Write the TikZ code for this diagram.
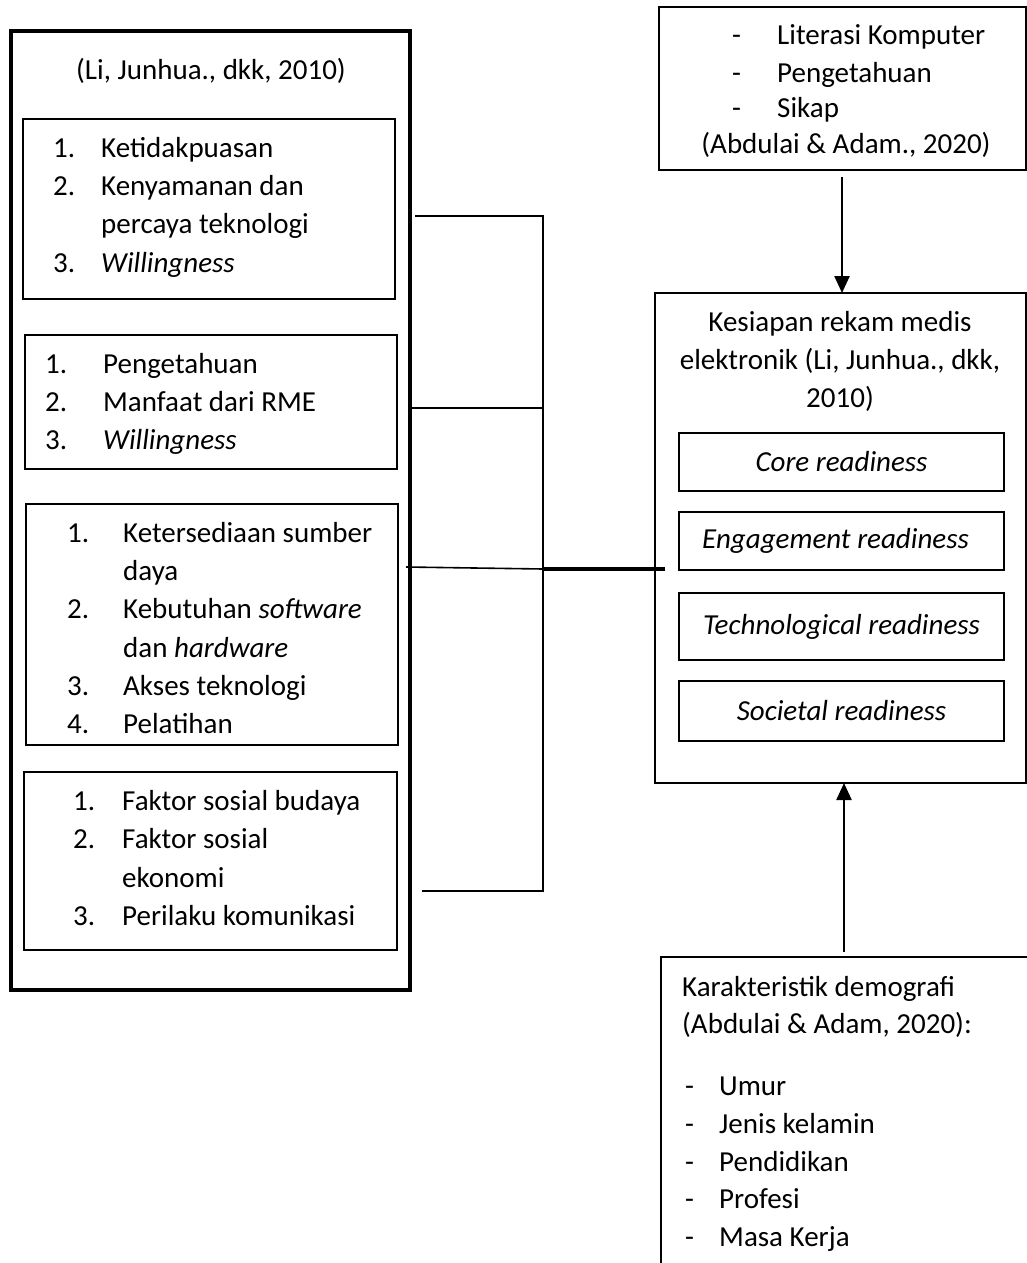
\documentclass[tikz,border=0pt]{standalone}
\usepackage{fontspec}
\setmainfont{Carlito}
\usepackage{tikz}
\usetikzlibrary{arrows.meta}

\tikzset{
  bigbox/.style={draw, line width=3.2pt, anchor=north west, inner sep=0pt, outer sep=0pt},
  itembox/.style={draw, line width=1.6pt, anchor=north west, inner sep=0pt, outer sep=0pt},
  txt/.style={font=\fontsize{29}{35}\selectfont, inner sep=0pt, anchor=base west},
  ctxt/.style={font=\fontsize{29}{35}\selectfont, inner sep=0pt, anchor=base},
  readybox/.style={itembox, minimum width=325pt, font=\fontsize{29}{35}\selectfont\itshape},
  link/.style={line width=1.6pt},
}

\begin{document}
\begin{tikzpicture}[x=1pt, y=-1pt, >={Triangle[width=15pt,length=17pt]}]
  \useasboundingbox (0,0) rectangle (1027,1263);
  \clip (0,0) rectangle (1027,1263);

  \node[bigbox, minimum width=399pt, minimum height=959pt] (kiri) at (11,31) {};
  \node[ctxt] (sumberLi) at (211,80) {(Li, Junhua., dkk, 2010)};

  \node[itembox, minimum width=372pt, minimum height=180pt] (dimA) at (23,119) {};
  \foreach \n/\y in {1./157, 2./195, 3./272}
    \node[txt] (nA\y) at (53,\y) {\n};
  \foreach \t/\y in {Ketidakpuasan/157, Kenyamanan dan/195, percaya teknologi/233, \textit{Willingness}/272}
    \node[txt] (tA\y) at (101,\y) {\t};

  \node[itembox, minimum width=372pt, minimum height=134pt] (dimB) at (25,335) {};
  \foreach \n/\y in {1./373, 2./411, 3./449}
    \node[txt] (nB\y) at (45,\y) {\n};
  \foreach \t/\y in {Pengetahuan/373, Manfaat dari RME/411, \textit{Willingness}/449}
    \node[txt] (tB\y) at (103,\y) {\t};

  \node[itembox, minimum width=372pt, minimum height=241pt] (dimC) at (26,504) {};
  \foreach \n/\y in {1./542, 2./618, 3./695, 4./733}
    \node[txt] (nC\y) at (67,\y) {\n};
  \foreach \t/\y in {Ketersediaan sumber/542, daya/580, Kebutuhan \textit{software}/618, dan \textit{hardware}/657, Akses teknologi/695, Pelatihan/733}
    \node[txt] (tC\y) at (123,\y) {\t};

  \node[itembox, minimum width=373pt, minimum height=178pt] (dimD) at (24,772) {};
  \foreach \n/\y in {1./810, 2./848, 3./925}
    \node[txt] (nD\y) at (73,\y) {\n};
  \foreach \t/\y in {Faktor sosial budaya/810, Faktor sosial/848, ekonomi/887, Perilaku komunikasi/925}
    \node[txt] (tD\y) at (122,\y) {\t};

  \node[itembox, minimum width=367pt, minimum height=163pt] (literasi) at (659,7) {};
  \foreach \t/\y in {Literasi Komputer/45, Pengetahuan/82, Sikap/117}{
    \node[txt] (dE\y) at (732,\y) {-};
    \node[txt] (tE\y) at (777,\y) {\t};
  }
  \node[ctxt] (sumberAbA) at (846,153) {(Abdulai \& Adam., 2020)};

  \node[itembox, minimum width=371pt, minimum height=490pt] (kesiapan) at (655,293) {};
  \foreach \t/\y in {Kesiapan rekam medis/331, {elektronik (Li, Junhua., dkk,}/369, 2010)/407}
    \node[ctxt] (tK\y) at (840,\y) {\t};
  \node[readybox, minimum height=58pt] (core) at (679,433) {Core readiness};
  \node[readybox, minimum height=58pt] (engage) at (679,512) {\hspace*{-12pt}Engagement readiness};
  \node[readybox, minimum height=67pt] (tekno) at (679,593) {Technological readiness};
  \node[readybox, minimum height=60pt] (sosial) at (679,681) {Societal readiness};

  \node[itembox, minimum width=375pt, minimum height=330pt] (demografi) at (661,957) {};
  \node[txt] (tF1) at (682,996) {Karakteristik demografi};
  \node[txt] (tF2) at (682,1033) {(Abdulai \& Adam, 2020):};
  \foreach \t/\y in {Umur/1095, Jenis kelamin/1133, Pendidikan/1171, Profesi/1208, Masa Kerja/1246}{
    \node[txt] (dF\y) at (685,\y) {-};
    \node[txt] (tF\y) at (719,\y) {\t};
  }

  \coordinate (fA) at (415,216);
  \coordinate (fB) at (412,408);
  \coordinate (fC) at (406,567);
  \coordinate (fD) at (422,891);
  \coordinate (hub) at (543,569);
  \coordinate (hubEnd) at (665,569);
  \draw[link] (fA) -| (hub);
  \draw[link] (fB) -| (hub);
  \draw[link] (fC) -- (hub);
  \draw[link] (fD) -| (hub);
  \draw[line width=3.2pt] (hub) -- (hubEnd);

  \coordinate (panahA) at (842,177);
  \coordinate (panahB) at (844,952);
  \draw[->, line width=2.4pt] (panahA) -- (kesiapan.north -| panahA);
  \draw[->, line width=2.4pt] (panahB) -- (kesiapan.south -| panahB);
\end{tikzpicture}
\end{document}
